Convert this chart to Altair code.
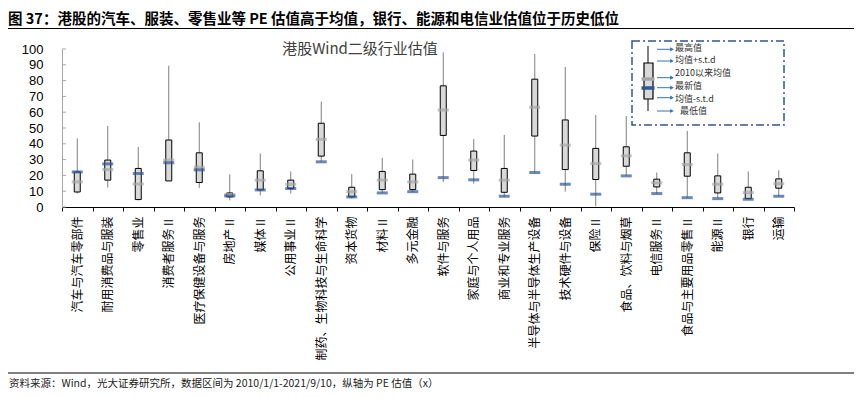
import altair as alt
import pandas as pd

cats = ["汽车与汽车零部件", "耐用消费品与服装", "零售业", "消费者服务Ⅱ", "医疗保健设备与服务",
        "房地产Ⅱ", "媒体Ⅱ", "公用事业Ⅱ", "制药、生物科技与生命科学", "资本货物", "材料Ⅱ",
        "多元金融", "软件与服务", "家庭与个人用品", "商业和专业服务", "半导体与半导体生产设备",
        "技术硬件与设备", "保险Ⅱ", "食品、饮料与烟草", "电信服务Ⅱ", "食品与主要用品零售Ⅱ",
        "能源Ⅱ", "银行", "运输"]
max_v = [43.4, 51.3, 38.0, 89.4, 53.6, 20.6, 33.9, 22.5, 66.7, 20.8, 31.1, 30.1,
         97.9, 43.0, 45.6, 96.8, 88.6, 58.3, 57.6, 21.8, 48.1, 33.9, 22.5, 23.3]
upper_v = [22.2, 29.7, 24.4, 42.4, 34.3, 8.9, 22.9, 17.0, 53.0, 12.5, 22.5, 20.8,
           76.7, 35.4, 24.4, 80.9, 55.1, 37.1, 38.1, 17.6, 34.3, 19.7, 12.5, 17.8]
mean_v = [15.9, 23.7, 14.6, 29.7, 25.2, 7.8, 17.0, 14.4, 42.8, 9.7, 17.0, 15.9,
          61.4, 29.7, 17.0, 63.1, 39.2, 27.5, 32.4, 15.3, 26.9, 14.4, 9.1, 14.8]
lower_v = [9.5, 17.0, 4.7, 16.5, 15.5, 6.4, 10.8, 11.7, 32.2, 6.4, 11.0, 11.0,
           45.3, 23.1, 9.3, 44.9, 23.7, 17.4, 25.8, 12.7, 19.5, 8.9, 5.3, 11.9]
min_v = [8.5, 12.3, 4.2, 16.5, 12.1, 4.2, 7.4, 8.5, 28.6, 5.3, 8.9, 9.5,
         15.9, 14.8, 6.4, 21.8, 9.7, 0.5, 19.7, 8.5, 5.9, 5.3, 4.9, 6.8]
latest_v = [22.2, 27.3, 21.2, 28.0, 23.5, 7.0, 10.8, 11.7, 28.6, 6.4, 8.9, 9.7,
            18.6, 17.2, 6.8, 21.8, 14.4, 8.1, 19.7, 8.5, 5.9, 5.3, 4.9, 6.8]
y_ticks = [0, 10, 20, 30, 40, 50, 60, 70, 80, 90, 100]

header = "图 37：港股的汽车、服装、零售业等 PE 估值高于均值，银行、能源和电信业估值位于历史低位"
inner_title = "港股Wind二级行业估值"
footer = "资料来源：Wind，光大证券研究所，数据区间为 2010/1/1-2021/9/10，纵轴为 PE 估值（x）"
legend_labels = ["最高值", "均值+s.t.d", "2010以来均值", "最新值", "均值-s.t.d", "最低值"]

df = pd.DataFrame({"cat": cats, "maxv": max_v, "upper": upper_v, "mean": mean_v,
                   "lower": lower_v, "minv": min_v, "latest": latest_v})
tick_df = pd.DataFrame({"t": y_ticks})

CJK = "Noto Sans CJK SC"
LAT = "Liberation Sans"

x_enc = alt.X("cat:N", sort=cats, title=None,
              scale=alt.Scale(paddingInner=0, paddingOuter=0),
              axis=alt.Axis(labelAngle=270, labelAlign="right", labelBaseline="middle",
                            labelFont=CJK, labelFontSize=12, labelColor="black",
                            labelPadding=5, labelLimit=400, tickBand="extent",
                            labelOverlap=False,
                            tickSize=4, tickColor="black", domainColor="black",
                            domainWidth=1, grid=False))
y_scale = alt.Scale(domain=[0, 100], nice=False)
y_axis = alt.Axis(values=y_ticks, labelFont=LAT, labelFontSize=13, labelColor="black",
                  labelOverlap=False, labelBound=False, labelFlush=False, tickCount=11,
                  ticks=False, labelPadding=19, domainColor="#a6a6a6", grid=False, title=None)


def Y(field):
    return alt.Y(field, scale=y_scale, axis=y_axis, title=None)


base = alt.Chart(df).encode(x=x_enc)
whisk = base.mark_rule(color="#7f7f7f", strokeWidth=1).encode(y=Y("minv:Q"), y2="maxv:Q")
box = base.mark_bar(size=6, fill="#d9d9d9", stroke="black", strokeWidth=1).encode(
    y=Y("lower:Q"), y2="upper:Q")
mean_t = base.mark_tick(color="#a6a6a6", thickness=3, size=11).encode(y=Y("mean:Q"))
latest_t = base.mark_tick(color="#2f5597", thickness=3, size=11).encode(y=Y("latest:Q"))

ytk = alt.Chart(tick_df).mark_rule(color="#a6a6a6", strokeWidth=1).encode(
    y=Y("t:Q"), x=alt.value(0), x2=alt.value(4))

one = alt.Data(values=[{"a": 1}])


def rule(x, x2, y, y2, color, w, dash=None):
    kw = dict(color=color, strokeWidth=w)
    if dash:
        kw["strokeDash"] = dash
    return alt.Chart(one).mark_rule(**kw).encode(
        x=alt.value(x), x2=alt.value(x2), y=alt.value(y), y2=alt.value(y2))


def text(x, y, s, size, color="black", weight="normal", font=CJK, align="left"):
    return alt.Chart(one).mark_text(text=s, fontSize=size, color=color, fontWeight=weight,
                                    font=font, align=align, baseline="middle").encode(
        x=alt.value(x), y=alt.value(y))


deco = [
    text(-54, -29.5, header, 14.5, weight="bold"),
    rule(-54, 793, -20.5, -20.5, "black", 1),
    rule(-54, 793, 324, 324, "black", 1),
    text(-53, 334.5, footer, 10.5, color="#222222"),
    text(298, 0, inner_title, 15, color="#404040", align="center"),
    alt.Chart(one).mark_rect(fillOpacity=0, stroke="#2f5597", strokeWidth=1.5,
                             strokeDash=[8, 3, 2, 3]).encode(
        x=alt.value(570), x2=alt.value(722), y=alt.value(-8), y2=alt.value(76)),
    rule(586, 586, -3, 62, "#595959", 1.5),
    alt.Chart(one).mark_rect(fill="#d9d9d9", stroke="black", strokeWidth=1.2).encode(
        x=alt.value(582), x2=alt.value(591), y=alt.value(14), y2=alt.value(50)),
    rule(579.5, 592.5, 30, 30, "#a6a6a6", 3.5),
    rule(579.5, 592.5, 39, 39, "#2f5597", 3.5),
]
arrow_y = [0.3, 12, 28.7, 38.7, 48.7, 62]
label_y = [-1.5, 11, 23.5, 36.5, 49.5, 62]
label_x = [613, 613, 613, 613, 613, 618]
for ay, ly, lx, lab in zip(arrow_y, label_y, label_x, legend_labels):
    deco.append(rule(595, 609, ay, ay, "#2e75b6", 1))
    deco.append(alt.Chart(one).mark_point(shape="triangle-right", filled=True, size=18,
                                          color="#2e75b6", opacity=1).encode(
        x=alt.value(610), y=alt.value(ay)))
    deco.append(text(lx, ly, lab, 9, color="#333333"))

chart = alt.layer(whisk, box, mean_t, latest_t, ytk, *deco).properties(
    width=732, height=158,
    autosize="none",
    padding={"left": 54, "top": 41, "right": 60, "bottom": 182},
).configure_view(stroke=None)

chart.save("out.html", embed_options={"renderer": "svg", "actions": False})
